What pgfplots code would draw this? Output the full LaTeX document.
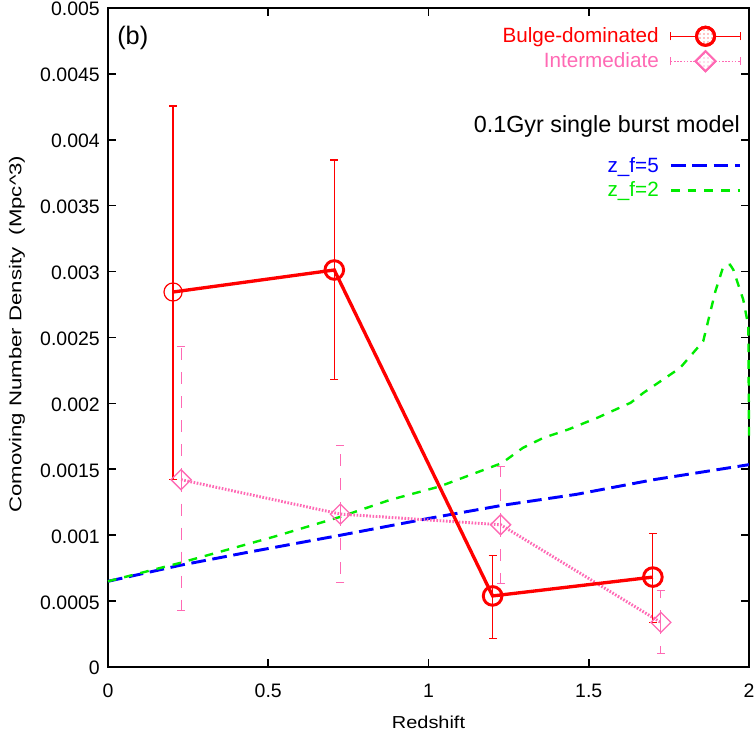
\documentclass[border=0pt]{standalone}
\usepackage{pgfplots}
\pgfplotsset{compat=1.18}
\usetikzlibrary{patterns}
\usepackage{fontspec}
\setmainfont{Liberation Sans}
\newfontfamily\widefont[FakeStretch=1.15]{Liberation Sans}
\newfontfamily\ylfont[FakeStretch=1.3]{Liberation Sans}
\definecolor{pinkc}{RGB}{255,105,180}
\definecolor{greenc}{RGB}{0,235,0}
\begin{document}
\begin{tikzpicture}
\begin{axis}[
  width=480.75pt, height=494.25pt, scale only axis,
  xmin=0, xmax=2, ymin=0, ymax=0.005,
  xtick={0,0.5,1,1.5,2}, xticklabels={0,0.5,1,1.5,2},
  ytick={0,0.0005,0.001,0.0015,0.002,0.0025,0.003,0.0035,0.004,0.0045,0.005},
  yticklabels={0,0.0005,0.001,0.0015,0.002,0.0025,0.003,0.0035,0.004,0.0045,0.005},
  scaled y ticks=false, scaled x ticks=false,
  tick align=inside, major tick length=6pt,
  tick style={black, line width=1.2pt},
  axis line style={line width=1.2pt},
  ticklabel style={font=\fontsize{14.6}{17}\selectfont},
  xticklabel style={anchor=base, yshift=-23pt, inner sep=0pt},
  yticklabel style={anchor=east, xshift=-6pt, yshift=-2.6pt, inner sep=0pt},
  typeset ticklabels with strut=false,
  xlabel={Redshift}, ylabel={Comoving Number Density\ \ (Mpc\textasciicircum3)},
  every axis x label/.style={at={(rel axis cs:0.5,-0.0926)}, anchor=base, inner sep=0pt,
     font=\widefont\fontsize{13}{15}\selectfont},
  every axis y label/.style={at={(rel axis cs:-0.142,0.505)}, rotate=90, anchor=center, inner sep=0pt,
     font=\ylfont\fontsize{12.8}{15}\selectfont},
  legend plot pos=right,
  legend cell align=right,
  legend style={at={(rel axis cs:0.989,0.9744)}, anchor=north east, draw=none, fill=none,
    inner sep=0pt, row sep=2pt, /tikz/column sep=6pt, font=\fontsize{15.5}{18}\selectfont},
  clip=false,
]
\coordinate (bbsw) at (rel axis cs:-0.1685,-0.1017);
\coordinate (bbne) at (rel axis cs:1.0109,1.0121);
% model curves
\addplot[blue, line width=2.2pt, dash pattern=on 11pt off 5pt, forget plot] coordinates {
(0,0.00065) (0.224,0.000771) (0.425,0.000865) (0.726,0.001) (1.0,0.001127)
(1.229,0.001226) (1.462,0.00131) (1.7,0.00142) (2.0,0.001535)};
\addplot[greenc, line width=1.8pt, dash pattern=on 6.5pt off 6pt, forget plot] coordinates {
(0,0.00065) (0.224,0.000789) (0.516,0.000987) (0.726,0.00114) (0.879,0.001267)
(1.034,0.001369) (1.229,0.001547) (1.294,0.001662) (1.358,0.001738) (1.436,0.001802)
(1.527,0.001891) (1.631,0.002005) (1.670,0.002079) (1.785,0.002269) (1.857,0.002471)
(1.895,0.00285) (1.920,0.00304) (1.941,0.003052) (1.951,0.003014) (1.982,0.002787)
(1.998,0.002585) (2.0,0.00173)};
% Intermediate
\addplot[forget plot, pinkc, line width=2.2pt, dash pattern=on 1.2pt off 1.2pt,
  mark=square, mark size=5.3pt,
  mark options={rotate=45, solid, line width=1pt, fill=white, postaction={pattern=dots, pattern color=pinkc}},
  error bars/.cd, y dir=both, y explicit,
  error bar style={draw=pinkc, color=pinkc, line width=0.8pt, dash pattern=on 9pt off 9pt},
  error mark options={draw=pinkc, color=pinkc, line width=0.8pt, mark size=3pt, solid, rotate=90}]
  table[x=x, y=y, y error plus=ep, y error minus=em] {
x y ep em
0.228 0.001421 0.001007 0.000994
0.725 0.001160 0.000522 0.000519
1.225 0.001079 0.000440 0.000448
1.725 0.000338 0.000242 0.000239
};
% Bulge-dominated
\addplot[forget plot, red, line width=2.5pt,
  mark=o, mark size=7pt, mark indices={2,3,4},
  mark options={solid, line width=2.2pt, fill=white, postaction={pattern=dots, pattern color=red}},
  error bars/.cd, y dir=both, y explicit,
  error bar style={draw=red, color=red, line width=0.9pt},
  error mark options={draw=red, color=red, line width=0.9pt, mark size=3pt, rotate=90}]
  table[x=x, y=y, y error plus=ep, y error minus=em] {
x y ep em
0.203 0.002845 0.001411 0.001422
0.706 0.003012 0.000835 0.000832
1.200 0.000539 0.000308 0.000320
1.700 0.000682 0.000333 0.000346
};
\addplot[forget plot, only marks, red, mark=o, mark size=6.8pt,
  mark options={solid, line width=0.9pt, fill=white, postaction={pattern=dots, pattern color=red}}]
  coordinates {(0.203,0.002845)};
% legend
\addlegendimage{legend image code/.code={
  \draw[red, line width=0.8pt] (0pt,0pt) -- (52pt,0pt);
  \draw[red, line width=0.8pt] (0pt,-3pt) -- (0pt,3pt) (52pt,-3pt) -- (52pt,3pt);
  \draw[red, line width=2.2pt, fill=white, postaction={pattern=dots, pattern color=red}] (26pt,0pt) circle (6.8pt);}}
\addlegendentry{\textcolor{red}{Bulge-dominated}}
\addlegendimage{legend image code/.code={
  \draw[pinkc, line width=0.8pt, dash pattern=on 1.2pt off 1.2pt] (0pt,0pt) -- (52pt,0pt);
  \draw[pinkc, line width=0.8pt] (0pt,-3pt) -- (0pt,3pt) (52pt,-3pt) -- (52pt,3pt);
  \draw[pinkc, line width=1.4pt, fill=white, postaction={pattern=dots, pattern color=pinkc}] (26pt,-7.5pt) -- (33.5pt,0pt) -- (26pt,7.5pt) -- (18.5pt,0pt) -- cycle;}}
\addlegendentry{\textcolor{pinkc}{Intermediate}}
\addlegendimage{empty legend}
\addlegendentry{\rule{0pt}{52pt}}
\addlegendimage{legend image code/.code={
  \draw[blue, line width=2.2pt, dash pattern=on 11pt off 5pt] (0pt,0pt) -- (52pt,0pt);}}
\addlegendentry{\textcolor{blue}{z\_f=5}}
\addlegendimage{legend image code/.code={
  \draw[greenc, line width=1.8pt, dash pattern=on 6.5pt off 6pt] (0pt,0pt) -- (52pt,0pt);}}
\addlegendentry{\textcolor{greenc}{z\_f=2}}
\node[anchor=east, inner sep=0pt, font=\fontsize{17.5}{20}\selectfont] at (rel axis cs:0.986,0.8195) {0.1Gyr single burst model};
\node[anchor=west, inner sep=0pt, font=\fontsize{19}{22}\selectfont] at (rel axis cs:0.014,0.955) {(b)};
\end{axis}
\pgfresetboundingbox
\path (bbsw) rectangle (bbne);
\end{tikzpicture}
\end{document}
